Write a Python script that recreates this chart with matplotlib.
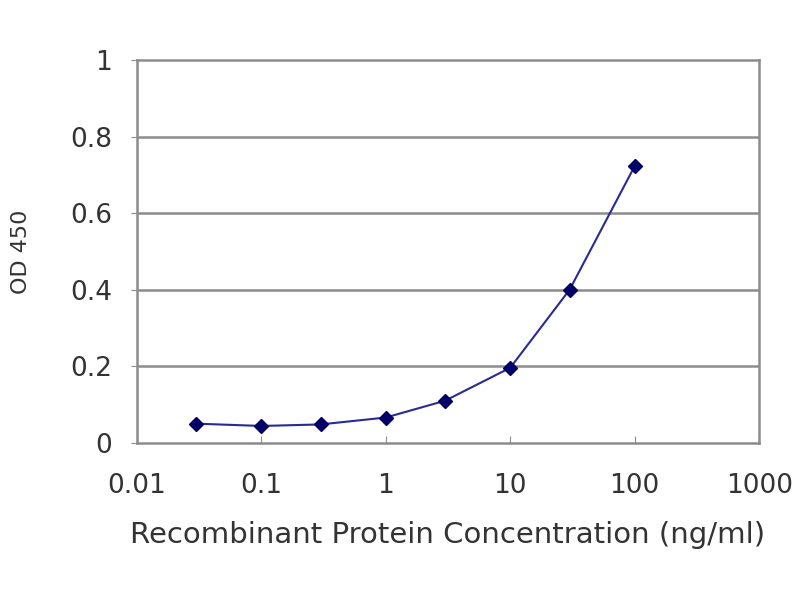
import matplotlib
matplotlib.use('Agg')
import matplotlib.pyplot as plt

# data
conc = [0.03, 0.1, 0.3, 1, 3, 10, 30, 100]
od450 = [0.050, 0.044, 0.048, 0.066, 0.110, 0.196, 0.400, 0.723]

xticks = [0.01, 0.1, 1, 10, 100, 1000]
xtick_labels = ["0.01", "0.1", "1", "10", "100", "1000"]
yticks = [0, 0.2, 0.4, 0.6, 0.8, 1]
ytick_labels = ["0", "0.2", "0.4", "0.6", "0.8", "1"]

plt.rcParams['font.family'] = ['DejaVu Sans']

fig = plt.figure(figsize=(8, 6), dpi=100)
ax = fig.add_axes([0.171, 0.262, 0.778, 0.638])

for y in yticks[1:-1]:
    ax.axhline(y, color="#8c8c8c", linewidth=1.8, zorder=1)

ax.plot(conc, od450, color="#2a2a96", linewidth=1.5, marker="D",
        markersize=7, markerfacecolor="#000066", markeredgecolor="#000066", zorder=3)

ax.set_xscale("log")
ax.set_xlim(0.01, 1000)
ax.set_ylim(0, 1)
ax.set_xticks(xticks)
ax.set_xticklabels(xtick_labels)
ax.minorticks_off()
ax.set_yticks(yticks)
ax.set_yticklabels(ytick_labels)

for s in ax.spines.values():
    s.set_color("#8c8c8c")
    s.set_linewidth(1.8)

ax.tick_params(axis="x", direction="in", length=5, color="#8c8c8c", pad=22,
               labelsize=19, labelcolor="#333333")
ax.tick_params(axis="y", direction="out", length=4, color="#8c8c8c", pad=14,
               labelsize=19, labelcolor="#333333")

ax.set_xlabel("Recombinant Protein Concentration (ng/ml)", fontsize=21, color="#333333")
ax.xaxis.set_label_coords(0.5, -0.205)
ax.set_ylabel("OD 450", fontsize=16, color="#333333")
ax.yaxis.set_label_coords(-0.17, 0.5)

fig.savefig("out.png", dpi=100, facecolor="white")
